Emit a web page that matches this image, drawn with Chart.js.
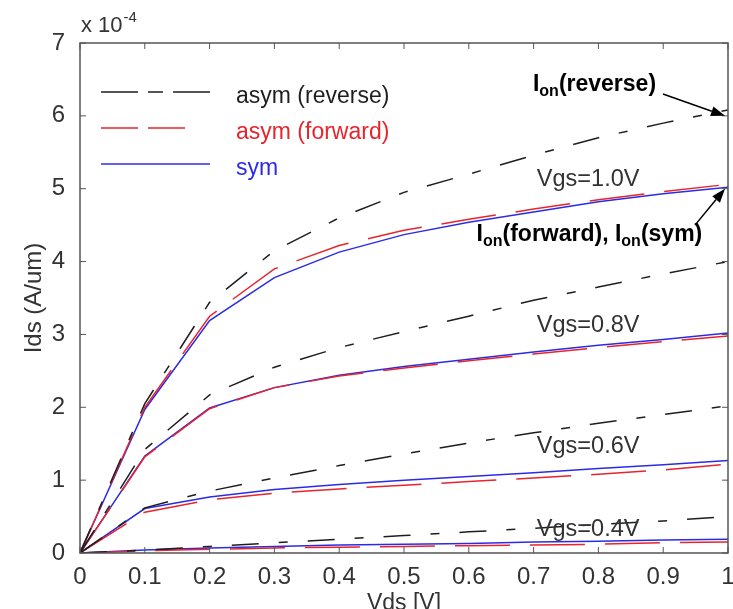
<!DOCTYPE html>
<html>
<head>
<meta charset="utf-8">
<script src="https://cdn.jsdelivr.net/npm/chart.js@4/dist/chart.umd.min.js"></script>
<style>html,body{margin:0;padding:0;background:#fff;}canvas{display:block;}</style>
</head>
<body>
<canvas id="c" width="733" height="609"></canvas>
<script>
// Drain voltage (V)
const vds = [0, 0.1, 0.2, 0.3, 0.4, 0.5, 0.6, 0.7, 0.8, 0.9, 1.0];
// Tick values
const xTicks = [0, 0.1, 0.2, 0.3, 0.4, 0.5, 0.6, 0.7, 0.8, 0.9, 1.0];
const yTicks = [0, 1, 2, 3, 4, 5, 6, 7];
// Ids in units of 1e-4 A/um
const rev10 = [0, 2.05, 3.44, 4.15, 4.60, 4.95, 5.20, 5.46, 5.70, 5.90, 6.08];
const fwd10 = [0, 2.00, 3.25, 3.90, 4.22, 4.43, 4.58, 4.72, 4.85, 4.96, 5.06];
const sym10 = [0, 1.97, 3.19, 3.78, 4.13, 4.37, 4.54, 4.68, 4.82, 4.93, 5.02];
const rev08 = [0, 1.42, 2.17, 2.55, 2.82, 3.04, 3.25, 3.47, 3.65, 3.83, 4.00];
const fwd08 = [0, 1.32, 1.98, 2.27, 2.43, 2.54, 2.64, 2.73, 2.82, 2.90, 2.98];
const sym08 = [0, 1.33, 1.99, 2.27, 2.44, 2.56, 2.66, 2.76, 2.85, 2.93, 3.02];
const rev06 = [0, 0.62, 0.85, 1.03, 1.20, 1.36, 1.51, 1.65, 1.78, 1.90, 2.02];
const fwd06 = [0, 0.56, 0.73, 0.82, 0.88, 0.93, 0.98, 1.03, 1.08, 1.14, 1.22];
const sym06 = [0, 0.61, 0.77, 0.87, 0.94, 1.00, 1.05, 1.10, 1.16, 1.21, 1.27];
const rev04 = [0, 0.04, 0.09, 0.14, 0.19, 0.24, 0.29, 0.34, 0.39, 0.44, 0.50];
const fwd04 = [0, 0.03, 0.05, 0.07, 0.08, 0.09, 0.10, 0.11, 0.12, 0.14, 0.15];
const sym04 = [0, 0.04, 0.07, 0.09, 0.11, 0.12, 0.13, 0.15, 0.16, 0.18, 0.19];
const seriesNames = ['asym (reverse)', 'asym (forward)', 'sym'];
const vgsLabels = ['Vgs=1.0V', 'Vgs=0.8V', 'Vgs=0.6V', 'Vgs=0.4V'];

const FONT = "'Liberation Sans', Arial, Helvetica, sans-serif";
const BLACK = '#1e1e1e', RED = '#e8242c', BLUE = '#2b2be6';
const styles = {
  rev: {color: BLACK, dash: [27, 20, 9, 20]},
  fwd: {color: RED, dash: [55, 20]},
  sym: {color: BLUE, dash: []}
};
const groups = [
  {rev: rev10, fwd: fwd10, sym: sym10},
  {rev: rev08, fwd: fwd08, sym: sym08},
  {rev: rev06, fwd: fwd06, sym: sym06},
  {rev: rev04, fwd: fwd04, sym: sym04}
];
const datasets = [];
['rev', 'fwd', 'sym'].forEach((k, ki) => {
  groups.forEach((g, gi) => {
    datasets.push({
      label: seriesNames[ki] + ' ' + vgsLabels[gi],
      data: vds.map((v, i) => ({x: v, y: g[k][i]})),
      borderColor: styles[k].color,
      borderDash: styles[k].dash,
      borderWidth: 1.5,
      pointRadius: 0,
      fill: false,
      tension: 0
    });
  });
});

function line(ctx, x1, y1, x2, y2) {
  ctx.beginPath(); ctx.moveTo(x1, y1); ctx.lineTo(x2, y2); ctx.stroke();
}
function arrow(ctx, x1, y1, x2, y2) {
  ctx.setLineDash([]);
  ctx.strokeStyle = '#000'; ctx.fillStyle = '#000'; ctx.lineWidth = 1.5;
  const ang = Math.atan2(y2 - y1, x2 - x1);
  const L = 14, W = 5;
  const bx = x2 - L * Math.cos(ang), by = y2 - L * Math.sin(ang);
  line(ctx, x1, y1, bx, by);
  ctx.beginPath();
  ctx.moveTo(x2, y2);
  ctx.lineTo(bx + W * Math.sin(ang), by - W * Math.cos(ang));
  ctx.lineTo(bx - W * Math.sin(ang), by + W * Math.cos(ang));
  ctx.closePath(); ctx.fill();
}
function ionText(ctx, parts, x, y) {
  let cx = x;
  parts.forEach(([t, sub]) => {
    ctx.font = sub ? 'bold 16px ' + FONT : 'bold 23px ' + FONT;
    ctx.fillText(t, cx, sub ? y + 5 : y);
    cx += ctx.measureText(t).width;
  });
}

const deco = {
  id: 'deco',
  afterDatasetsDraw(chart) {
    const {ctx, chartArea: a, scales: {x, y}} = chart;
    ctx.save();
    ctx.setLineDash([]);
    ctx.strokeStyle = '#555'; ctx.lineWidth = 1.5;
    ctx.strokeRect(a.left, a.top, a.right - a.left, a.bottom - a.top);
    ctx.lineWidth = 1;
    xTicks.forEach(v => {
      const px = x.getPixelForValue(v);
      line(ctx, px, a.bottom, px, a.bottom - 6);
      line(ctx, px, a.top, px, a.top + 6);
    });
    yTicks.forEach(v => {
      const py = y.getPixelForValue(v);
      line(ctx, a.left, py, a.left + 6, py);
      line(ctx, a.right, py, a.right - 6, py);
    });
    // exponent label
    ctx.fillStyle = '#333'; ctx.textAlign = 'left'; ctx.textBaseline = 'alphabetic';
    ctx.font = '22px ' + FONT;
    ctx.fillText('x 10', a.left + 1, 32);
    const w = ctx.measureText('x 10').width;
    ctx.font = '15px ' + FONT;
    ctx.fillText('-4', a.left + 2 + w, 22);
    // legend
    const lx0 = a.left + 21, lx1 = a.left + 130;
    const rows = [
      {c: BLACK, dash: [37, 10, 15, 10], end: lx1, dy: 49},
      {c: RED, dash: [37, 10], end: a.left + 105, dy: 85},
      {c: BLUE, dash: [], end: lx1, dy: 121}
    ];
    rows.forEach((r, i) => {
      ctx.strokeStyle = r.c; ctx.lineWidth = 1.5; ctx.setLineDash(r.dash);
      line(ctx, lx0, a.top + r.dy, r.end, a.top + r.dy);
      ctx.setLineDash([]);
      ctx.fillStyle = r.c; ctx.font = '23px ' + FONT;
      ctx.fillText(seriesNames[i], a.left + 156, a.top + r.dy + 11);
    });
    // Vgs labels
    ctx.fillStyle = '#333'; ctx.font = '23.5px ' + FONT;
    const vgsPos = [5.15, 3.15, 1.48, 0.34];
    vgsLabels.forEach((t, i) => {
      ctx.fillText(t, x.getPixelForValue(0.705), y.getPixelForValue(vgsPos[i]) + 8);
    });
    // Ion annotations
    ctx.fillStyle = '#000';
    ionText(ctx, [['I', 0], ['on', 1], ['(reverse)', 0]], x.getPixelForValue(0.699), y.getPixelForValue(6.34));
    ionText(ctx, [['I', 0], ['on', 1], ['(forward), ', 0], ['I', 0], ['on', 1], ['(sym)', 0]],
      x.getPixelForValue(0.612), y.getPixelForValue(4.28));
    const xr = x.getPixelForValue(1) - 3;
    arrow(ctx, xr - 62, y.getPixelForValue(6.3), xr, y.getPixelForValue(6.0));
    arrow(ctx, xr - 30, y.getPixelForValue(4.5), xr, y.getPixelForValue(5.0));
    ctx.restore();
  }
};

new Chart(document.getElementById('c'), {
  type: 'line',
  data: {datasets},
  options: {
    responsive: false,
    animation: false,
    devicePixelRatio: 1,
    layout: {padding: {top: 43, right: 5, left: 0, bottom: 0}},
    plugins: {legend: {display: false}, tooltip: {enabled: false}},
    scales: {
      x: {
        type: 'linear', min: 0, max: 1,
        afterBuildTicks(s) { s.ticks = xTicks.map(v => ({value: v})); },
        ticks: {callback: v => String(+(+v).toFixed(1)), font: {family: FONT, size: 24}, color: '#333', padding: 2, maxRotation: 0, autoSkip: false},
        grid: {display: false},
        border: {display: false},
        title: {display: true, text: 'Vds [V]', font: {family: FONT, size: 23}, color: '#333', padding: {top: 0, bottom: -8}},
        afterFit(s) { s.height = 56; s.paddingRight = 0; s.paddingLeft = 0; }
      },
      y: {
        type: 'linear', min: 0, max: 7,
        afterBuildTicks(s) { s.ticks = yTicks.map(v => ({value: v})); },
        ticks: {font: {family: FONT, size: 24}, color: '#333', padding: 7},
        grid: {display: false},
        border: {display: false},
        title: {display: true, text: 'Ids (A/um)', font: {family: FONT, size: 24}, color: '#333', padding: {top: 20, bottom: 0}},
        afterFit(s) { s.width = 80; s.paddingTop = 0; s.paddingBottom = 0; }
      }
    }
  },
  plugins: [deco]
});
</script>
</body>
</html>
